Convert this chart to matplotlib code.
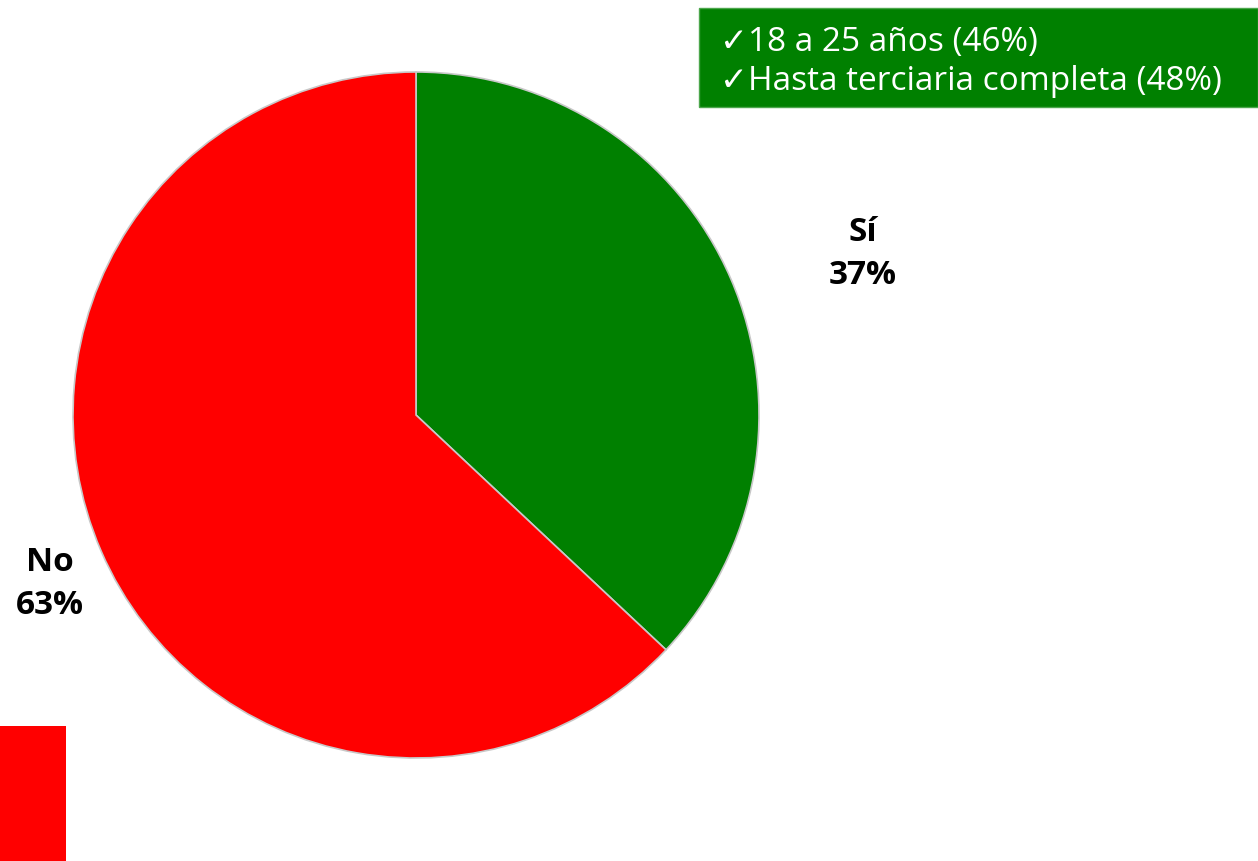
import matplotlib
matplotlib.use("Agg")
import matplotlib.pyplot as plt
from matplotlib.patches import Rectangle

# data
labels = ["Sí", "No"]
shares = [37, 63]
colors = ["#008000", "#FF0000"]
notes = ["\u271318 a 25 años (46%)", "\u2713Hasta terciaria completa (48%)"]

W, H = 1258, 861
fig = plt.figure(figsize=(W / 100, H / 100), dpi=100)
ax = fig.add_axes([0, 0, 1, 1])

# pie (y axis is inverted, so counterclock=True draws clockwise on screen)
cx, cy, r = 416, 415, 343
ax.pie(shares, colors=colors, startangle=-90, counterclock=True,
       center=(cx, cy), radius=r, frame=True,
       wedgeprops=dict(edgecolor="#c8c8c8", linewidth=1.2))
ax.set_xlim(0, W)
ax.set_ylim(H, 0)
ax.set_aspect("equal")
ax.axis("off")

# slice labels
lab_pos = [(863, 254), (50, 584)]
for (x, y), lab, v in zip(lab_pos, labels, shares):
    ax.text(x, y, f"{lab}\n{v}%", ha="center", va="center", fontsize=24,
            fontweight="bold", family=["Open Sans", "DejaVu Sans"],
            linespacing=1.4, color="black")

# green note box
ax.add_patch(Rectangle((699, 8), 559, 99, facecolor="#008000",
                       edgecolor="#4ca64c", linewidth=1))
for i, t in enumerate(notes):
    ax.text(720, 42 + i * 39, t, ha="left", va="center", fontsize=24,
            color="white", family=["Open Sans", "DejaVu Sans"])

# red block bottom left
ax.add_patch(Rectangle((0, 726), 66, 140, facecolor="#FF0000",
                       edgecolor="none"))

fig.savefig("out.png", dpi=100)
